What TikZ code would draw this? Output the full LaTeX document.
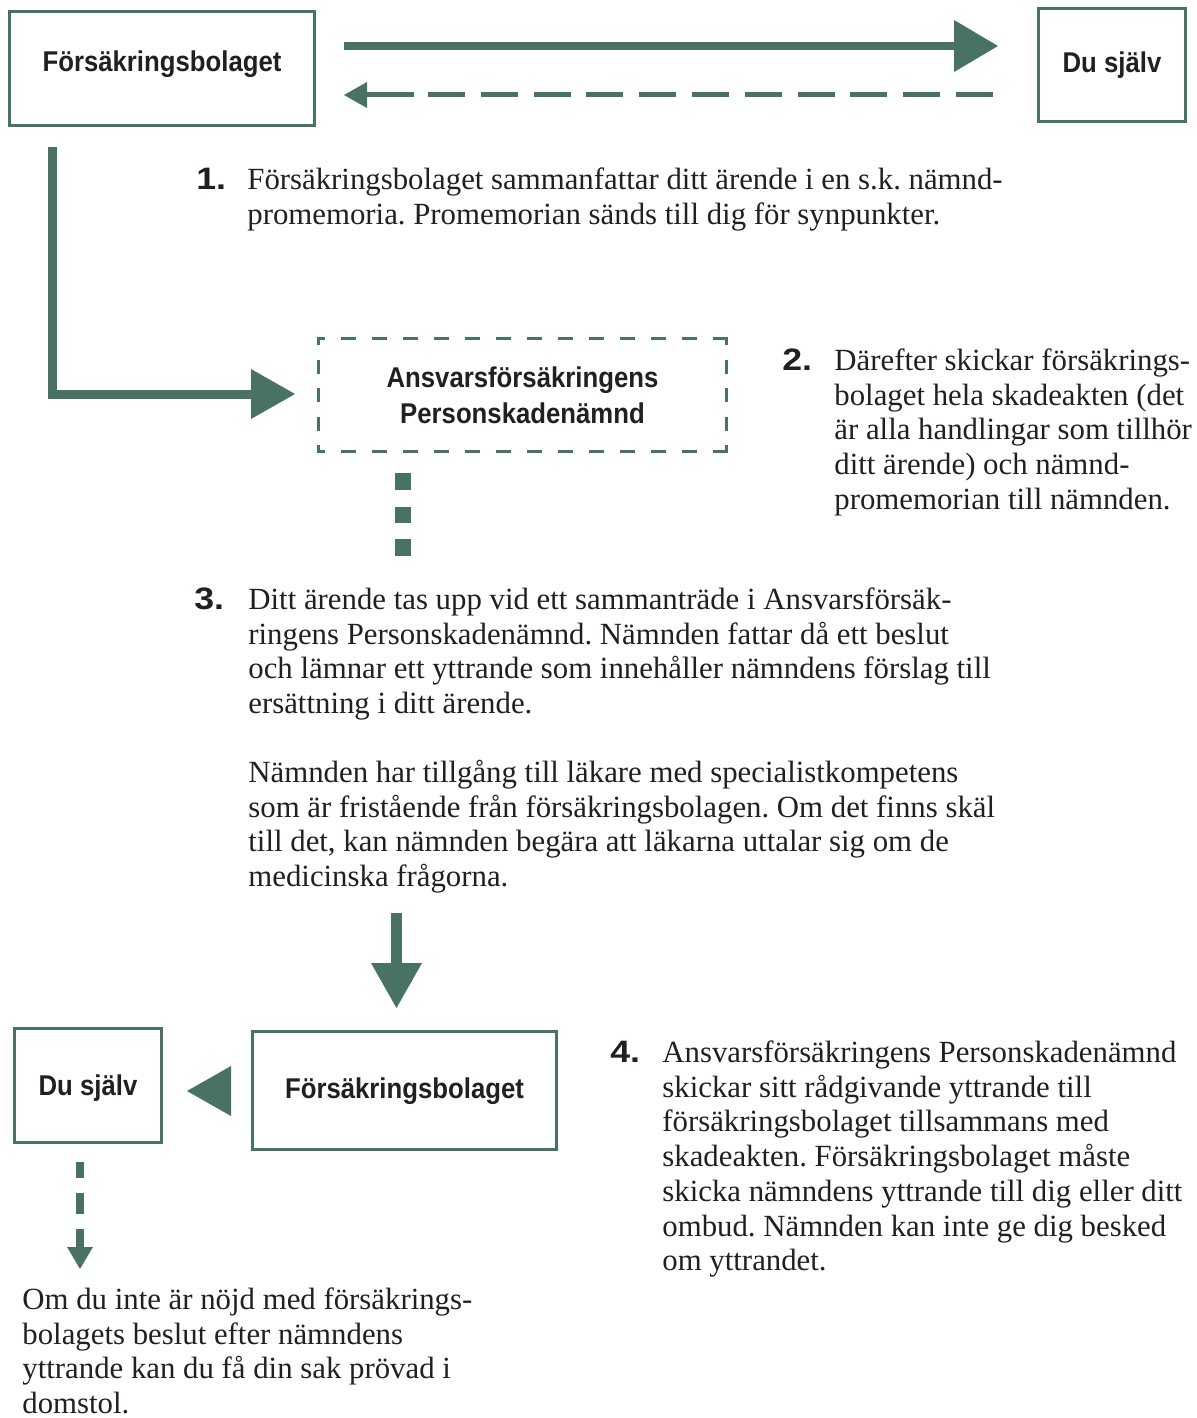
\documentclass[tikz,border=0pt]{standalone}
\usepackage{fontspec}
\setmainfont{Liberation Serif}
\newfontfamily\labelfamily[FakeStretch=0.9]{Liberation Sans}
\newfontfamily\numfamily[FakeStretch=1.15]{Liberation Sans}
\definecolor{grn}{RGB}{72,114,99}
\definecolor{txt}{RGB}{35,31,32}
\newcommand\bodyfont{\fontsize{15.4pt}{17.375pt}\selectfont}
\newcommand\lblfont{\labelfamily\bfseries\fontsize{14.3pt}{18pt}\selectfont}
\newcommand\nmfont{\numfamily\bfseries\fontsize{15.5pt}{16pt}\selectfont}
\newcommand\bstrut{\rule{0pt}{15pt}}
\frenchspacing
\begin{document}
\begin{tikzpicture}[x=0.5pt,y=-0.5pt,
  box/.style={draw=grn, line width=1.5pt, inner sep=0pt, font=\lblfont, text=txt, anchor=base},
  body/.style={anchor=north west, inner sep=0pt, align=left, font=\bodyfont, text=txt},
  num/.style={anchor=base west, inner sep=0pt, font=\nmfont, text=txt},
  head/.style={fill=grn}]
\useasboundingbox (0,0) rectangle (1197,1418);

% boxes
\node[box, text height=30.25pt, text depth=26.75pt, minimum width=152.5pt] (fb1) at (162,72) {Försäkringsbolaget};
\node[box, text height=32.25pt, text depth=24.25pt, minimum width=73.5pt] (ds1) at (1112,73) {Du själv};
\node[inner sep=0pt, minimum width=204pt, minimum height=56.5pt, align=center, font=\lblfont, text=txt] (pn) at (522.5,395) {Ansvarsförsäkringens\\Personskadenämnd};
\node[box, text height=33.25pt, text depth=23.75pt, minimum width=73.5pt] (ds2) at (88,1095) {Du själv};
\node[box, text height=33.25pt, text depth=25.75pt, minimum width=152pt] (fb2) at (404.5,1098) {Försäkringsbolaget};

% dashed box outline
\draw[grn, line width=1.5pt, dash pattern=on 7.5pt off 8pt, dash phase=3.5pt] (317,338.5) -- (728,338.5);
\draw[grn, line width=1.5pt, dash pattern=on 7.5pt off 8pt, dash phase=3.5pt] (317,451.5) -- (728,451.5);
\draw[grn, line width=1.5pt, dash pattern=on 7pt off 7.25pt, dash phase=3pt] (318.5,337) -- (318.5,453);
\draw[grn, line width=1.5pt, dash pattern=on 7pt off 7.25pt, dash phase=3pt] (726.5,337) -- (726.5,453);

% connectors
\coordinate (a1s) at (344,46);
\coordinate (a1b) at (955,46);
\coordinate (a1t) at (998,46);
\draw[grn, line width=4pt] (a1s) -- (a1b);
\fill[head] (a1t) -- (954,20) -- (954,72) -- cycle;

\coordinate (a2s) at (993,95);
\coordinate (a2m) at (412,95);
\coordinate (a2t) at (344,95);
\draw[grn, line width=2.5pt, dash pattern=on 18.5pt off 7.9pt] (a2s) -- (a2m);
\draw[grn, line width=2.5pt] (414,95) -- (366,95);
\fill[head] (a2t) -- (367,82) -- (367,108) -- cycle;

\coordinate (a3s) at (52,147);
\coordinate (a3t) at (295,394);
\draw[grn, line width=4.5pt] (a3s) |- (252,394);
\fill[head] (a3t) -- (251,369) -- (251,419) -- cycle;

\fill[grn] (395,473) rectangle (411,490);
\fill[grn] (395,507) rectangle (411,523);
\fill[grn] (395,539) rectangle (411,556);

\coordinate (a4s) at (396.5,913);
\coordinate (a4t) at (396.5,1008);
\draw[grn, line width=5.5pt] (a4s) -- (396.5,965);
\fill[head] (a4t) -- (371,963) -- (422,963) -- cycle;

\coordinate (a5t) at (187,1091);
\fill[head] (a5t) -- (231,1066) -- (231,1116) -- cycle;

\draw[grn, line width=4pt] (80,1162) -- (80,1178);
\draw[grn, line width=4pt] (80,1193) -- (80,1214);
\draw[grn, line width=4pt] (80,1229) -- (80,1249);
\coordinate (a6t) at (80,1269);
\fill[head] (a6t) -- (67,1247) -- (93,1247) -- cycle;

% texts
\node[num] (n1) at (196,189) {1.};
\node[body] (t1) at (247,159) {\bstrut Försäkringsbolaget sammanfattar ditt ärende i en s.k. nämnd-\\promemoria. Promemorian sänds till dig för synpunkter.};

\node[num] (n2) at (782,370) {2.};
\node[body] (t2) at (834,340) {\bstrut Därefter skickar försäkrings-\\bolaget hela skadeakten (det\\är alla handlingar som tillhör\\ditt ärende) och nämnd-\\promemorian till nämnden.};

\node[num] (n3) at (194,609) {3.};
\node[body] (t3) at (248,579) {\bstrut Ditt ärende tas upp vid ett sammanträde i Ansvarsförsäk-\\ringens Personskadenämnd. Nämnden fattar då ett beslut\\och lämnar ett yttrande som innehåller nämndens förslag till\\ersättning i ditt ärende.};
\node[body] (t3b) at (248,752) {\bstrut Nämnden har tillgång till läkare med specialistkompetens\\som är fristående från försäkringsbolagen. Om det finns skäl\\till det, kan nämnden begära att läkarna uttalar sig om de\\medicinska frågorna.};

\node[num] (n4) at (610,1062) {4.};
\node[body] (t4) at (662,1032) {\bstrut Ansvarsförsäkringens Personskadenämnd\\skickar sitt rådgivande yttrande till\\försäkringsbolaget tillsammans med\\skadeakten. Försäkringsbolaget måste\\skicka nämndens yttrande till dig eller ditt\\ombud. Nämnden kan inte ge dig besked\\om yttrandet.};

\node[body] (t5) at (22,1279) {\bstrut Om du inte är nöjd med försäkrings-\\bolagets beslut efter nämndens\\yttrande kan du få din sak prövad i\\domstol.};
\end{tikzpicture}
\end{document}
